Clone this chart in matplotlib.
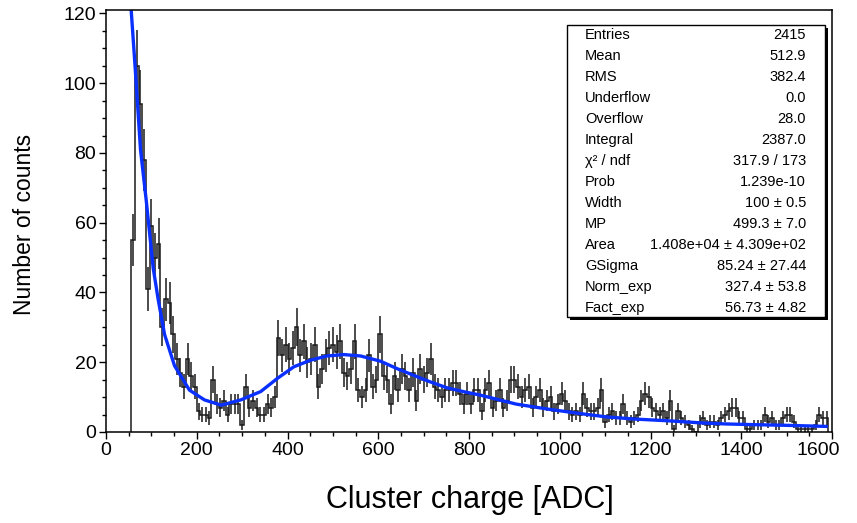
import numpy as np
import matplotlib.pyplot as plt
from matplotlib.patches import Rectangle
from matplotlib.transforms import ScaledTranslation

plt.rcParams['font.family'] = ['Liberation Sans', 'DejaVu Sans']

# histogram: first bin lower edge, bin width and counts per bin (ADC)
first_edge = 56
bin_width = 8
counts = [
    55, 105, 94, 78, 41, 59, 50, 54,
    30, 38, 37, 28, 21, 17, 13, 21,
    16, 13, 6, 5, 5, 4, 15, 8,
    7, 9, 5, 8, 8, 8, 2, 13,
    7, 9, 7, 5, 5, 8, 7, 10,
    27, 22, 25, 21, 24, 30, 22, 26,
    20, 21, 25, 13, 18, 22, 24, 25,
    23, 26, 17, 16, 18, 26, 12, 10,
    12, 22, 13, 15, 28, 16, 15, 8,
    16, 12, 18, 16, 12, 17, 9, 18,
    15, 17, 21, 13, 12, 10, 12, 12,
    14, 14, 11, 8, 11, 8, 12, 12,
    6, 12, 14, 7, 9, 12, 7, 9,
    15, 15, 13, 10, 12, 13, 7, 10,
    12, 7, 9, 10, 6, 8, 11, 9,
    6, 5, 6, 5, 11, 7, 6, 6,
    7, 12, 3, 5, 6, 4, 4, 8,
    4, 3, 4, 5, 9, 11, 10, 7,
    6, 5, 6, 4, 9, 1, 6, 4,
    3, 2, 1, 0, 3, 4, 2, 3,
    3, 2, 4, 5, 6, 7, 7, 4,
    4, 1, 1, 2, 2, 2, 5, 3,
    4, 2, 2, 4, 5, 5, 3, 1,
    1, 1, 1, 1, 2, 5, 4, 4,
]

# fitted curve
fit_x = [54, 56, 64, 76, 89, 104, 115, 129, 151, 184, 217, 254, 297, 341,
         378, 414, 451, 487, 524, 561, 605, 641, 677, 714, 751, 787, 824,
         904, 977, 1050, 1105, 1167, 1241, 1313, 1368, 1430, 1504, 1588]
fit_y = [124, 120, 105, 81, 66, 47, 38, 28, 19, 12, 9.2, 7.7, 9.2, 11.6,
         15.4, 18.7, 20.6, 21.8, 22.2, 21.8, 20.3, 18.2, 16.3, 14.4, 12.7,
         11.6, 10.6, 8.0, 6.5, 5.2, 4.3, 3.7, 3.2, 2.6, 2.3, 2.1, 1.9, 1.6]

stat_names = ['Entries', 'Mean', 'RMS', 'Underflow', 'Overflow', 'Integral',
              'χ² / ndf', 'Prob', 'Width', 'MP', 'Area', 'GSigma',
              'Norm_exp', 'Fact_exp']
stat_values = ['2415', '512.9', '382.4', '0.0', '28.0', '2387.0',
               '317.9 / 173', '1.239e-10', '100 ± 0.5', '499.3 ± 7.0',
               '1.408e+04 ± 4.309e+02', '85.24 ± 27.44', '327.4 ± 53.8',
               '56.73 ± 4.82']

W, H = 857, 523
fig = plt.figure(figsize=(W / 100, H / 100), dpi=100)
ax = fig.add_axes([106 / W, 1 - 432 / H, (832 - 106) / W, (432 - 10) / H])

c = np.array(counts, dtype=float)
edges = first_edge + bin_width * np.arange(len(c) + 1)
centers = edges[:-1] + bin_width / 2
err = np.sqrt(c)
m = c > 0

ax.stairs(c, edges, color='#1a1a1a', lw=1.1)
ax.vlines(centers[m], (c - err)[m], (c + err)[m], color='#1a1a1a', lw=1.1)
ax.plot(fit_x, fit_y, color='#0a30ff', lw=2.4, solid_capstyle='round')

ax.set_xlim(0, 1600)
ax.set_ylim(0, 121)
ax.set_xticks(np.arange(0, 1601, 200))
ax.set_xticks(np.arange(0, 1601, 50), minor=True)
ax.set_yticks(np.arange(0, 121, 20))
ax.set_yticks(np.arange(0, 121, 5), minor=True)
ax.tick_params(which='major', direction='out', length=5, width=1,
               labelsize=14, pad=2)
ax.tick_params(which='minor', direction='out', length=3, width=1)
for s in ax.spines.values():
    s.set_linewidth(1.1)

# last x label sits a bit to the left, like in ROOT
last = ax.get_xticklabels()[-1]
last.set_transform(last.get_transform() +
                   ScaledTranslation(-14 / 100, 0, fig.dpi_scale_trans))

fig.text(25 / W, 1 - 224 / H, 'Number of counts', rotation=90,
         ha='center', va='center', fontsize=16.5)
fig.text(470 / W, 1 - 500 / H, 'Cluster charge [ADC]',
         ha='center', va='center', fontsize=22)

# stats box with shadow
def px(x, y):
    return x / W, 1 - y / H

bx0, by0, bx1, by1 = 567, 25, 825, 317
fig.patches.append(Rectangle(px(bx0 + 3, by1 + 3), (bx1 - bx0) / W,
                             (by1 - by0) / H, transform=fig.transFigure,
                             facecolor='black', edgecolor='none', zorder=5))
fig.patches.append(Rectangle(px(bx0, by1), (bx1 - bx0) / W,
                             (by1 - by0) / H, transform=fig.transFigure,
                             facecolor='white', edgecolor='black', lw=1,
                             zorder=6))
for i, (name, val) in enumerate(zip(stat_names, stat_values)):
    y = 35 + i * 21.0
    fig.text(*px(585, y), name, ha='left', va='center', fontsize=10.5,
             zorder=7)
    fig.text(*px(806, y), val, ha='right', va='center', fontsize=10.5,
             zorder=7)

fig.savefig('out.png', dpi=100)
